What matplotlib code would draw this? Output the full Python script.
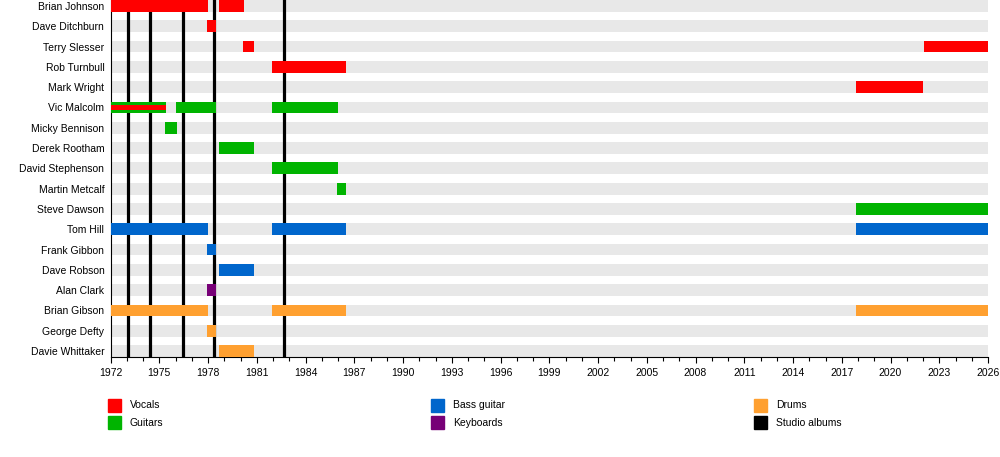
import numpy as np
import matplotlib
matplotlib.use('Agg')
import matplotlib.pyplot as plt
from matplotlib.patches import Rectangle

plt.rcParams['font.family'] = ['Liberation Sans', 'DejaVu Sans']
plt.rcParams['font.size'] = 7.5

# band members, top to bottom
members = ['Brian Johnson', 'Dave Ditchburn', 'Terry Slesser', 'Rob Turnbull', 'Mark Wright',
           'Vic Malcolm', 'Micky Bennison', 'Derek Rootham', 'David Stephenson', 'Martin Metcalf',
           'Steve Dawson', 'Tom Hill', 'Frank Gibbon', 'Dave Robson', 'Alan Clark',
           'Brian Gibson', 'George Defty', 'Davie Whittaker']

# membership periods
bar_member = ['Brian Johnson', 'Brian Johnson', 'Dave Ditchburn', 'Terry Slesser', 'Terry Slesser',
              'Rob Turnbull', 'Mark Wright', 'Vic Malcolm', 'Vic Malcolm', 'Vic Malcolm',
              'Micky Bennison', 'Derek Rootham', 'David Stephenson', 'Martin Metcalf', 'Steve Dawson',
              'Tom Hill', 'Tom Hill', 'Tom Hill', 'Frank Gibbon', 'Dave Robson', 'Alan Clark',
              'Brian Gibson', 'Brian Gibson', 'Brian Gibson', 'George Defty', 'Davie Whittaker']
bar_start = [1972.0, 1978.65, 1977.95, 1980.15, 2022.05,
             1981.95, 2017.9, 1972.0, 1976.0, 1981.95,
             1975.35, 1978.65, 1981.95, 1985.95, 2017.9,
             1972.0, 1981.95, 2017.9, 1977.95, 1978.65, 1977.95,
             1972.0, 1981.95, 2017.9, 1977.95, 1978.65]
bar_end = [1978.0, 1980.2, 1978.5, 1980.85, 2026.0,
           1986.5, 2022.0, 1975.4, 1978.5, 1986.0,
           1976.1, 1980.85, 1986.0, 1986.5, 2026.0,
           1978.0, 1986.5, 2026.0, 1978.5, 1980.85, 1978.5,
           1978.0, 1986.5, 2026.0, 1978.5, 1980.85]
bar_role = ['Vocals', 'Vocals', 'Vocals', 'Vocals', 'Vocals',
            'Vocals', 'Vocals', 'Guitars', 'Guitars', 'Guitars',
            'Guitars', 'Guitars', 'Guitars', 'Guitars', 'Guitars',
            'Bass guitar', 'Bass guitar', 'Bass guitar', 'Bass guitar', 'Bass guitar', 'Keyboards',
            'Drums', 'Drums', 'Drums', 'Drums', 'Drums']

# secondary role (thin stripe inside a bar)
stripe_member = ['Vic Malcolm']
stripe_start = [1972.0]
stripe_end = [1975.4]
stripe_role = ['Vocals']

albums = [1973.08, 1974.46, 1976.49, 1978.37, 1982.7]

roles = ['Vocals', 'Guitars', 'Bass guitar', 'Keyboards', 'Drums', 'Studio albums']
colors = {'Vocals': '#ff0000', 'Guitars': '#00b400', 'Bass guitar': '#0066cc',
          'Keyboards': '#770077', 'Drums': '#ffa030', 'Studio albums': '#000000'}

x0, x1 = 1972, 2026
h = 0.58

fig = plt.figure(figsize=(10, 4.57), dpi=100)
ax = fig.add_axes([0.1105, 1 - 357 / 457, 0.8775, 357 / 457])

ypos = {m: i for i, m in enumerate(members)}

# grey background rows
ax.barh(range(len(members)), x1 - x0, left=x0, height=h, color='#e8e8e8', zorder=1)

# studio album lines
for a in albums:
    ax.axvline(a, color='black', lw=2.3, zorder=2)

for m, s, e, r in zip(bar_member, bar_start, bar_end, bar_role):
    ax.barh(ypos[m], e - s, left=s, height=h, color=colors[r], zorder=3)

for m, s, e, r in zip(stripe_member, stripe_start, stripe_end, stripe_role):
    ax.barh(ypos[m], e - s, left=s, height=h * 0.37, color=colors[r], zorder=4)

ax.set_xlim(x0, x1)
ax.set_ylim(len(members) - 1 + h / 2, -h / 2)
ax.set_yticks(range(len(members)))
ax.set_yticklabels(members)
ax.tick_params(axis='y', length=0, pad=4.5)
ax.set_xticks(np.arange(1972, 2027, 3))
ax.set_xticks(np.arange(1972, 2027, 1), minor=True)
ax.tick_params(axis='x', which='major', length=4, width=0.8, pad=4)
ax.tick_params(axis='x', which='minor', length=3, width=0.8)
for sp in ['top', 'right']:
    ax.spines[sp].set_visible(False)
ax.spines['left'].set_linewidth(0.8)
ax.spines['bottom'].set_linewidth(0.8)

# legend
W, H = 1000, 457
cols = [108, 431, 754]
rows = [399, 416]
for k, r in enumerate(roles):
    lx = cols[k // 2]
    ly = rows[k % 2]
    fig.add_artist(Rectangle((lx / W, 1 - (ly + 13) / H), 13 / W, 13 / H,
                             transform=fig.transFigure, color=colors[r]))
    fig.text((lx + 22) / W, 1 - (ly + 6.5) / H, r, va='center', ha='left')

fig.savefig('out.png', dpi=100)
